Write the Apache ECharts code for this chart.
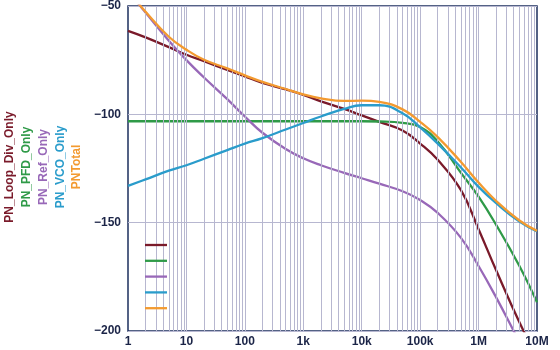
<!DOCTYPE html>
<html><head><meta charset="utf-8">
<script src="https://cdn.jsdelivr.net/npm/echarts@6/dist/echarts.min.js"></script>
<style>html,body{margin:0;padding:0;background:#fff}#c{width:560px;height:350px}</style>
</head><body><div id="c"></div>
<script>
// frequency offsets (Hz)
var freqs = [1,2,5,10,20,50,100,200,500,1e3,2e3,5e3,1e4,2e4,5e4,1e5,2e5,5e5,1e6,2e6,5e6,1e7];
// phase noise values (dBc/Hz)
var pnLoopDiv = [-61.5,-64.5,-69,-72.5,-75.5,-79.5,-82.5,-85.5,-88.5,-91,-94,-97.5,-100.5,-103.5,-107.5,-113.5,-121,-135,-153,-172,-196,-212];
var pnPFD     = [-103.2,-103.2,-103.2,-103.2,-103.2,-103.2,-103.2,-103.2,-103.2,-103.2,-103.2,-103.2,-103.2,-103.3,-103.9,-105.8,-112.5,-127,-138,-151,-170,-186.7];
var pnRef     = [-43,-53,-66,-75,-83,-93,-101,-108.5,-116,-120.3,-123.5,-127,-129.5,-132,-135.5,-139.5,-145.5,-157,-170,-184.5,-205,-220];
var pnVCO     = [-133,-130,-126,-123.5,-120.5,-116.5,-113.5,-111,-107,-104,-101,-97.5,-95.8,-95.8,-99.5,-106,-113.5,-124.5,-133.5,-141,-149.5,-154];
var pnTotal   = [-42.9,-52.7,-64.2,-70.2,-74.8,-78.8,-82,-85,-88.3,-90.8,-92.6,-93.8,-93.7,-94.2,-97.7,-103.5,-110.5,-122,-131.5,-140,-149,-153.8];
var xTickLabels = {1:'1',10:'10',100:'100',1000:'1k',10000:'10k',100000:'100k',1000000:'1M',10000000:'10M'};
var seriesNames = ['PN_Loop_Div_Only','PN_PFD_Only','PN_Ref_Only','PN_VCO_Only','PNTotal'];
var seriesColors = ['#7a1a2a','#2f9a48','#9868b8','#2a9ccb','#f39a30'];
var seriesValues = [pnLoopDiv,pnPFD,pnRef,pnVCO,pnTotal];

function pairs(v){ return freqs.map(function(f,i){ return [f, v[i]]; }); }

// vertical log grid positions (2..9 per decade)
var vgrid = [];
for (var d=0; d<7; d++){ for (var k=1;k<=9;k++){ var v=k*Math.pow(10,d); if(v>1) vgrid.push({xAxis:v}); } }

var chart = echarts.init(document.getElementById('c'));
var navy = '#1d2f5e';
var series = [{
  type:'line', data:[], silent:true, z:1,
  markLine:{silent:true, symbol:'none', label:{show:false}, animation:false,
    lineStyle:{color:'#b7b7d0', width:1, type:'solid'}, data:vgrid}
}];
seriesNames.forEach(function(n,i){
  series.push({name:n, type:'line', data:pairs(seriesValues[i]), smooth:0.45, showSymbol:false,
    clip:true, z:2+i, lineStyle:{color:seriesColors[i], width:2.3}, itemStyle:{color:seriesColors[i]}});
});

var graphics = [];
var lx = [10,27,44,61,77];
seriesNames.forEach(function(n,i){
  graphics.push({type:'text', x:lx[i], y:167, rotation:Math.PI/2,
    style:{text:n, fill:seriesColors[i], font:'bold 12px "Liberation Sans", Arial, sans-serif', textAlign:'center', textVerticalAlign:'middle'}});
  graphics.push({type:'line', shape:{x1:145,y1:245+i*15.8,x2:167,y2:245+i*15.8}, style:{stroke:seriesColors[i], lineWidth:2.3}, z:10});
});

chart.setOption({
  animation:false,
  grid:{left:128, right:23, top:4, bottom:19, show:true, borderColor:navy, borderWidth:1.5, backgroundColor:'transparent'},
  xAxis:{type:'log', logBase:10, min:1, max:1e7,
    axisLine:{show:false}, axisTick:{show:false},
    splitLine:{show:false},
    axisLabel:{margin:5, color:'#1b2447', fontSize:12, fontWeight:'bold', fontFamily:'"Liberation Sans", Arial, sans-serif',
      formatter:function(v){ var k=Math.round(v); return xTickLabels[k]!==undefined?xTickLabels[k]:''; }}
  },
  yAxis:{type:'value', min:-200, max:-50, interval:50,
    axisLine:{show:false}, axisTick:{show:false},
    splitLine:{show:true, lineStyle:{color:'#b7b7d0', width:1}},
    axisLabel:{margin:7, color:'#1b2447', fontSize:12, fontWeight:'bold', fontFamily:'"Liberation Sans", Arial, sans-serif',
      formatter:function(v){ return (v<0?'\u2212':'')+Math.abs(v); }}
  },
  series:series,
  graphic:graphics
});
</script></body></html>
